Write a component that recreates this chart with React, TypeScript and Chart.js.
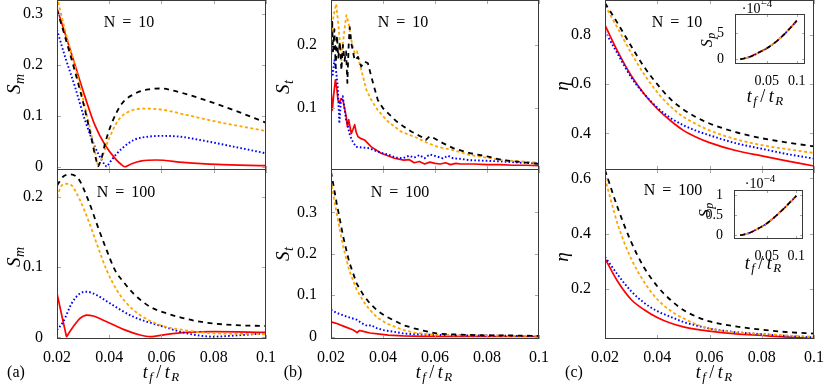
import React, { useEffect, useRef } from 'react';
import { Chart, registerables } from 'chart.js';

Chart.register(...registerables);

const PAGE_W = 830;
const PAGE_H = 391;
const SERIF = "'Liberation Serif', 'Times New Roman', serif";

// ---------------- shared x ticks ----------------
const X_TICKS = [0.02, 0.04, 0.06, 0.08, 0.1];
const X_TICK_LABELS = ['0.02', '0.04', '0.06', '0.08', '0.1'];

// ---------------- (a) S_m , N = 10 ----------------
const A10_RED_X = [0.02, 0.0231, 0.0269, 0.0307, 0.0345, 0.0384, 0.0422, 0.0448, 0.046, 0.0472, 0.0486, 0.0524, 0.058, 0.0683, 0.0811, 0.1];
const A10_RED_Y = [0.311, 0.262, 0.2, 0.138, 0.082, 0.043, 0.017, 0.004, 0.0005, 0.003, 0.0065, 0.012, 0.0137, 0.0092, 0.0052, 0.0026];
const A10_BLUE_X = [0.02, 0.0231, 0.0269, 0.0307, 0.0345, 0.0371, 0.0384, 0.039, 0.0396, 0.0409, 0.0448, 0.0499, 0.055, 0.0601, 0.0671, 0.0747, 0.0875, 0.1];
const A10_BLUE_Y = [0.269, 0.216, 0.157, 0.092, 0.04, 0.0137, 0.004, 0.0008, 0.004, 0.0137, 0.036, 0.054, 0.0595, 0.061, 0.0595, 0.053, 0.04, 0.0268];
const A10_ORANGE_X = [0.02, 0.0231, 0.0269, 0.0307, 0.0333, 0.0352, 0.0358, 0.0364, 0.0372, 0.0397, 0.0435, 0.0486, 0.0537, 0.0601, 0.0696, 0.0811, 0.1];
const A10_ORANGE_Y = [0.334, 0.268, 0.197, 0.118, 0.06, 0.014, 0.001, 0.009, 0.018, 0.053, 0.092, 0.111, 0.1144, 0.1125, 0.102, 0.0889, 0.0706];
const A10_BLACK_X = [0.02, 0.0231, 0.0269, 0.0307, 0.0333, 0.0345, 0.0352, 0.0357, 0.0362, 0.0372, 0.0384, 0.0409, 0.0448, 0.0499, 0.055, 0.0601, 0.0646, 0.0747, 0.0875, 0.1];
const A10_BLACK_Y = [0.308, 0.255, 0.187, 0.112, 0.053, 0.024, 0.01, 0.0015, 0.006, 0.02, 0.046, 0.085, 0.124, 0.144, 0.152, 0.154, 0.1497, 0.1346, 0.1118, 0.0869];

// ---------------- (a) S_m , N = 100 ----------------
const A100_RED_X = [0.02, 0.0232, 0.0237, 0.0242, 0.0262, 0.0288, 0.0314, 0.0339, 0.039, 0.0454, 0.0518, 0.0556, 0.062, 0.0696, 0.0798, 0.1];
const A100_RED_Y = [0.0624, 0.0083, 0.0009, 0.004, 0.0151, 0.027, 0.0317, 0.0303, 0.0222, 0.0113, 0.0033, 0.0009, 0.0043, 0.0071, 0.008, 0.0071];
const A100_BLUE_X = [0.02, 0.0224, 0.0256, 0.0288, 0.0314, 0.0352, 0.0403, 0.0492, 0.0599, 0.0696, 0.0747, 0.0798, 0.0875, 0.1];
const A100_BLUE_Y = [0.0104, 0.0222, 0.0482, 0.0624, 0.0648, 0.06, 0.0482, 0.0293, 0.0161, 0.0057, 0.0024, 0.0009, 0.0024, 0.0057];
const A100_ORANGE_X = [0.02, 0.0218, 0.0237, 0.0256, 0.0288, 0.032, 0.0352, 0.039, 0.0429, 0.0467, 0.0518, 0.0594, 0.0684, 0.08, 0.1];
const A100_ORANGE_Y = [0.1995, 0.216, 0.2184, 0.216, 0.195, 0.1664, 0.1333, 0.0955, 0.0671, 0.0482, 0.0317, 0.0175, 0.0104, 0.0057, 0.0047];
const A100_BLACK_X = [0.02, 0.0224, 0.025, 0.0282, 0.032, 0.0352, 0.039, 0.0422, 0.0454, 0.0492, 0.0556, 0.062, 0.0747, 0.0875, 0.1];
const A100_BLACK_Y = [0.216, 0.2288, 0.2317, 0.2255, 0.1948, 0.1617, 0.1239, 0.0955, 0.079, 0.0624, 0.0435, 0.034, 0.0222, 0.0175, 0.0161];

// ---------------- (b) S_t , N = 10 ----------------
const B10_RED_X = [0.02, 0.0205, 0.021, 0.0217, 0.0222, 0.0227, 0.0233, 0.0238, 0.0246, 0.0252, 0.0258, 0.0263, 0.0268, 0.0278, 0.0284, 0.0291, 0.0297, 0.0304, 0.0316, 0.0329, 0.0355, 0.0393, 0.0444, 0.048, 0.05, 0.052, 0.054, 0.056, 0.058, 0.06, 0.062, 0.064, 0.066, 0.068, 0.07, 0.075, 0.08, 0.085, 0.09, 0.095, 0.1];
const B10_RED_Y = [0.129, 0.097, 0.12, 0.145, 0.132, 0.113, 0.108, 0.115, 0.113, 0.1, 0.088, 0.071, 0.082, 0.06, 0.066, 0.074, 0.062, 0.055, 0.052, 0.05, 0.039, 0.029, 0.021, 0.018, 0.019, 0.014, 0.016, 0.012, 0.015, 0.013, 0.012, 0.014, 0.011, 0.013, 0.012, 0.012, 0.011, 0.011, 0.01, 0.01, 0.0095];
const B10_BLUE_X = [0.02, 0.0206, 0.0213, 0.0218, 0.0226, 0.0232, 0.0238, 0.0245, 0.025, 0.0258, 0.0264, 0.027, 0.028, 0.0296, 0.032, 0.0347, 0.037, 0.0398, 0.042, 0.045, 0.0476, 0.05, 0.052, 0.054, 0.056, 0.058, 0.0606, 0.063, 0.065, 0.067, 0.07, 0.0735, 0.08, 0.086, 0.093, 0.1];
const B10_BLUE_Y = [0.166, 0.15, 0.176, 0.165, 0.134, 0.076, 0.11, 0.119, 0.105, 0.082, 0.075, 0.061, 0.05, 0.039, 0.038, 0.037, 0.033, 0.029, 0.027, 0.022, 0.021, 0.025, 0.022, 0.026, 0.021, 0.027, 0.024, 0.021, 0.025, 0.021, 0.02, 0.018, 0.017, 0.016, 0.014, 0.013];
const B10_ORANGE_X = [0.02, 0.0206, 0.0212, 0.022, 0.0225, 0.0229, 0.0235, 0.024, 0.0245, 0.025, 0.0259, 0.0268, 0.0278, 0.0291, 0.03, 0.031, 0.0323, 0.0336, 0.0355, 0.038, 0.0419, 0.047, 0.0521, 0.0572, 0.0611, 0.067, 0.0735, 0.08, 0.086, 0.093, 0.1];
const B10_ORANGE_Y = [0.197, 0.235, 0.25, 0.265, 0.245, 0.229, 0.2, 0.176, 0.2, 0.218, 0.247, 0.234, 0.208, 0.187, 0.19, 0.171, 0.15, 0.129, 0.113, 0.097, 0.079, 0.063, 0.055, 0.045, 0.039, 0.034, 0.026, 0.022, 0.018, 0.016, 0.014];
const B10_BLACK_X = [0.02, 0.0204, 0.0208, 0.0213, 0.0218, 0.0223, 0.0228, 0.0234, 0.024, 0.0246, 0.0252, 0.0258, 0.0263, 0.0268, 0.0272, 0.0278, 0.0291, 0.0304, 0.0316, 0.0329, 0.0342, 0.0355, 0.0365, 0.038, 0.04, 0.042, 0.045, 0.048, 0.051, 0.0547, 0.0565, 0.058, 0.0595, 0.063, 0.067, 0.0735, 0.08, 0.086, 0.093, 0.1];
const B10_BLACK_Y = [0.17, 0.24, 0.19, 0.225, 0.165, 0.215, 0.18, 0.205, 0.16, 0.2, 0.175, 0.19, 0.14, 0.2, 0.228, 0.203, 0.176, 0.181, 0.166, 0.174, 0.171, 0.15, 0.135, 0.113, 0.1, 0.092, 0.08, 0.071, 0.063, 0.055, 0.05, 0.056, 0.053, 0.045, 0.037, 0.029, 0.024, 0.018, 0.015, 0.012];

// ---------------- (b) S_t , N = 100 ----------------
const B100_RED_X = [0.02, 0.021, 0.0222, 0.025, 0.0286, 0.03, 0.031, 0.0324, 0.035, 0.038, 0.042, 0.0478, 0.055, 0.07, 0.08, 0.1];
const B100_RED_Y = [0.036, 0.034, 0.032, 0.025, 0.016, 0.01, 0.015, 0.013, 0.009, 0.007, 0.004, 0.002, 0.001, 0.001, 0.0005, 0.0005];
const B100_BLUE_X = [0.02, 0.022, 0.0258, 0.0299, 0.032, 0.034, 0.0355, 0.037, 0.04, 0.044, 0.0478, 0.052, 0.0606, 0.07, 0.08, 0.09, 0.1];
const B100_BLUE_Y = [0.065, 0.058, 0.049, 0.041, 0.032, 0.026, 0.028, 0.022, 0.016, 0.012, 0.008, 0.006, 0.0043, 0.003, 0.003, 0.002, 0.002];
const B100_ORANGE_X = [0.02, 0.0211, 0.0222, 0.0235, 0.0247, 0.027, 0.0299, 0.0325, 0.035, 0.038, 0.0414, 0.045, 0.0478, 0.052, 0.056, 0.0606, 0.07, 0.08, 0.09, 0.1];
const B100_ORANGE_Y = [0.377, 0.335, 0.297, 0.255, 0.217, 0.16, 0.113, 0.085, 0.064, 0.045, 0.032, 0.023, 0.016, 0.01, 0.007, 0.0043, 0.003, 0.003, 0.002, 0.002];
const B100_BLACK_X = [0.02, 0.0211, 0.0222, 0.0235, 0.0247, 0.027, 0.0299, 0.0325, 0.035, 0.038, 0.0414, 0.045, 0.0478, 0.052, 0.056, 0.0606, 0.065, 0.07, 0.08, 0.09, 0.1];
const B100_BLACK_Y = [0.398, 0.36, 0.321, 0.28, 0.241, 0.18, 0.128, 0.1, 0.08, 0.062, 0.048, 0.037, 0.028, 0.02, 0.014, 0.008, 0.006, 0.005, 0.003, 0.003, 0.002];

// ---------------- (c) eta ----------------
const C_X = [0.02, 0.025, 0.03, 0.035, 0.04, 0.045, 0.05, 0.055, 0.06, 0.07, 0.08, 0.09, 0.1];
const C10_RED = [0.84, 0.73, 0.635, 0.56, 0.5, 0.452, 0.412, 0.384, 0.362, 0.33, 0.308, 0.287, 0.267];
const C10_BLUE = [0.815, 0.72, 0.628, 0.56, 0.505, 0.463, 0.433, 0.41, 0.392, 0.36, 0.337, 0.315, 0.297];
const C10_ORANGE = [0.92, 0.825, 0.727, 0.64, 0.567, 0.51, 0.467, 0.437, 0.412, 0.376, 0.352, 0.335, 0.32];
const C10_BLACK = [0.93, 0.845, 0.755, 0.67, 0.6, 0.54, 0.497, 0.465, 0.44, 0.405, 0.38, 0.362, 0.347];
const C100_RED = [0.31, 0.225, 0.162, 0.125, 0.097, 0.077, 0.063, 0.054, 0.048, 0.038, 0.032, 0.026, 0.021];
const C100_BLUE = [0.316, 0.25, 0.192, 0.15, 0.12, 0.1, 0.081, 0.068, 0.057, 0.044, 0.037, 0.03, 0.025];
const C100_ORANGE = [0.6, 0.43, 0.31, 0.225, 0.163, 0.122, 0.094, 0.072, 0.057, 0.043, 0.037, 0.032, 0.027];
const C100_BLACK = [0.63, 0.49, 0.37, 0.277, 0.21, 0.161, 0.124, 0.1, 0.083, 0.065, 0.053, 0.044, 0.039];

// ---------------- insets S_p (units of 1e-4) ----------------
const INSET10_X = [0.006, 0.01, 0.02, 0.03, 0.04, 0.05, 0.06, 0.07, 0.08, 0.09, 0.1];
const INSET10_Y = [0, 0.1, 0.4, 0.9, 1.5, 2.1, 2.9, 3.8, 4.9, 6.1, 7.4];
const INSET100_X = [0.005, 0.01, 0.02, 0.03, 0.04, 0.05, 0.06, 0.07, 0.08, 0.09, 0.1];
const INSET100_Y = [0, 0.01, 0.05, 0.12, 0.2, 0.29, 0.41, 0.54, 0.68, 0.83, 0.98];
const INSET_X_TICKS = [0.05, 0.1];
const INSET_X_LABELS = ['0.05', '0.1'];
const INSET10_Y_TICKS = [0, 5];
const INSET10_Y_LABELS = ['0', '5'];
const INSET100_Y_TICKS = [0, 0.5, 1];
const INSET100_Y_LABELS = ['0', '0.5', '1'];

// ---------------- y ticks of the main panels ----------------
const A10_Y_TICKS = [0, 0.1, 0.2, 0.3];
const A10_Y_LABELS = ['0', '0.1', '0.2', '0.3'];
const A100_Y_TICKS = [0, 0.1, 0.2];
const A100_Y_LABELS = ['0', '0.1', '0.2'];
const B10_Y_TICKS = [0.1, 0.2];
const B10_Y_LABELS = ['0.1', '0.2'];
const B100_Y_TICKS = [0, 0.1, 0.2, 0.3];
const B100_Y_LABELS = ['0', '0.1', '0.2', '0.3'];
const C10_Y_TICKS = [0.4, 0.6, 0.8];
const C10_Y_LABELS = ['0.4', '0.6', '0.8'];
const C100_Y_TICKS = [0.2, 0.4, 0.6];
const C100_Y_LABELS = ['0.2', '0.4', '0.6'];

// ---------------- styles ----------------
type Key = 'red' | 'blue' | 'orange' | 'black';
const STYLE: Record<Key, { color: string; width: number; dash: number[]; order: number }> = {
  red: { color: '#ff0000', width: 1.7, dash: [], order: 3 },
  blue: { color: '#0000ff', width: 1.9, dash: [1.6, 2.2], order: 2 },
  orange: { color: '#ffa500', width: 1.8, dash: [3, 2.5], order: 1 },
  black: { color: '#000000', width: 1.8, dash: [5, 4.5], order: 0 },
};

type Part = { t: string; s: number; i?: boolean; dy?: number; dx?: number };
type TextItem = { x: number; y: number; rot?: number; parts: Part[] };
type Series = { key: Key; x: number[]; y: number[] };
type Panel = {
  area: [number, number, number, number];
  xRange: [number, number];
  yRange: [number, number];
  xTicks: number[];
  xLabels: string[] | null;
  yTicks: number[];
  yLabels: string[];
  series: Series[];
  smooth: boolean;
  inset?: boolean;
  texts: TextItem[];
};

const ROT = -Math.PI / 2;
const yLabel = (x: number, y: number, main: string, sub?: string): TextItem => ({
  x, y, rot: ROT,
  parts: sub
    ? [{ t: main, s: 19, i: true }, { t: sub, s: 14, i: true, dy: 4, dx: 0.5 }]
    : [{ t: main, s: 19, i: true }],
});
const nLabel = (x: number, y: number, n: string): TextItem => ({
  x, y,
  parts: [{ t: 'N', s: 16 }, { t: '=', s: 16, dx: 7 }, { t: n, s: 16, dx: 7 }],
});
const tLabel = (x: number, y: number, s = 18): TextItem => ({
  x, y,
  parts: [
    { t: 't', s, i: true },
    { t: 'f', s: s - 5, i: true, dy: 3.5, dx: 1.5 },
    { t: '/', s, dx: 3.5 },
    { t: 't', s, i: true, dx: 3.5 },
    { t: 'R', s: s - 5, i: true, dy: 3.5, dx: 1.5 },
  ],
});
const letter = (x: number, y: number, l: string): TextItem => ({ x, y, parts: [{ t: l, s: 16 }] });
const spLabel = (x: number, y: number): TextItem => ({
  x, y, rot: ROT,
  parts: [{ t: 'S', s: 16, i: true }, { t: 'p', s: 12, i: true, dy: 3, dx: 0.5 }],
});
const expLabel = (x: number, y: number): TextItem => ({
  x, y,
  parts: [{ t: '·10', s: 14 }, { t: '−4', s: 11, dy: -6 }],
});

const four = (r: number[][], b: number[][], o: number[][], k: number[][]): Series[] => [
  { key: 'red', x: r[0], y: r[1] },
  { key: 'blue', x: b[0], y: b[1] },
  { key: 'orange', x: o[0], y: o[1] },
  { key: 'black', x: k[0], y: k[1] },
];

const PANELS: Panel[] = [
  {
    area: [57, 0, 266, 170], xRange: [0.02, 0.1], yRange: [-0.0059, 0.3275],
    xTicks: X_TICKS, xLabels: null, yTicks: A10_Y_TICKS, yLabels: A10_Y_LABELS,
    series: four([A10_RED_X, A10_RED_Y], [A10_BLUE_X, A10_BLUE_Y], [A10_ORANGE_X, A10_ORANGE_Y], [A10_BLACK_X, A10_BLACK_Y]),
    smooth: true,
    texts: [yLabel(14, 84, 'S', 'm'), nLabel(129, 22, '10')],
  },
  {
    area: [57, 169, 266, 339], xRange: [0.02, 0.1], yRange: [-0.0024, 0.2394],
    xTicks: X_TICKS, xLabels: X_TICK_LABELS, yTicks: A100_Y_TICKS, yLabels: A100_Y_LABELS,
    series: four([A100_RED_X, A100_RED_Y], [A100_BLUE_X, A100_BLUE_Y], [A100_ORANGE_X, A100_ORANGE_Y], [A100_BLACK_X, A100_BLACK_Y]),
    smooth: true,
    texts: [yLabel(14, 257, 'S', 'm'), nLabel(126, 192, '100'), tLabel(161, 372), letter(16, 372, '(a)')],
  },
  {
    area: [331, 0, 539, 170], xRange: [0.02, 0.1], yRange: [0.0025, 0.271],
    xTicks: X_TICKS, xLabels: null, yTicks: B10_Y_TICKS, yLabels: B10_Y_LABELS,
    series: four([B10_RED_X, B10_RED_Y], [B10_BLUE_X, B10_BLUE_Y], [B10_ORANGE_X, B10_ORANGE_Y], [B10_BLACK_X, B10_BLACK_Y]),
    smooth: false,
    texts: [yLabel(283, 87, 'S', 't'), nLabel(403, 22, '10')],
  },
  {
    area: [331, 169, 539, 339], xRange: [0.02, 0.1], yRange: [-0.0055, 0.4044],
    xTicks: X_TICKS, xLabels: X_TICK_LABELS, yTicks: B100_Y_TICKS, yLabels: B100_Y_LABELS,
    series: four([B100_RED_X, B100_RED_Y], [B100_BLUE_X, B100_BLUE_Y], [B100_ORANGE_X, B100_ORANGE_Y], [B100_BLACK_X, B100_BLACK_Y]),
    smooth: false,
    texts: [yLabel(283, 254, 'S', 't'), nLabel(400, 192, '100'), tLabel(434, 372), letter(293, 372, '(b)')],
  },
  {
    area: [605, 0, 814, 170], xRange: [0.02, 0.1], yRange: [0.2507, 0.9424],
    xTicks: X_TICKS, xLabels: null, yTicks: C10_Y_TICKS, yLabels: C10_Y_LABELS,
    series: four([C_X, C10_RED], [C_X, C10_BLUE], [C_X, C10_ORANGE], [C_X, C10_BLACK]),
    smooth: true,
    texts: [yLabel(562, 86, 'η'), nLabel(677, 22, '10')],
  },
  {
    area: [605, 169, 814, 339], xRange: [0.02, 0.1], yRange: [0.0193, 0.6336],
    xTicks: X_TICKS, xLabels: X_TICK_LABELS, yTicks: C100_Y_TICKS, yLabels: C100_Y_LABELS,
    series: four([C_X, C100_RED], [C_X, C100_BLUE], [C_X, C100_ORANGE], [C_X, C100_BLACK]),
    smooth: true,
    texts: [yLabel(562, 257, 'η'), nLabel(673, 190, '100'), tLabel(714, 372), letter(574, 372, '(c)')],
  },
  {
    area: [735, 14, 805, 64], xRange: [-0.0028, 0.1138], yRange: [-0.9, 8.71],
    xTicks: INSET_X_TICKS, xLabels: INSET_X_LABELS, yTicks: INSET10_Y_TICKS, yLabels: INSET10_Y_LABELS,
    series: four([INSET10_X, INSET10_Y], [INSET10_X, INSET10_Y], [INSET10_X, INSET10_Y], [INSET10_X, INSET10_Y]),
    smooth: true, inset: true,
    texts: [spLabel(707, 40), expLabel(757, 8), tLabel(765, 96)],
  },
  {
    area: [734, 190, 803, 239], xRange: [-0.0053, 0.1113], yRange: [-0.097, 1.128],
    xTicks: INSET_X_TICKS, xLabels: INSET_X_LABELS, yTicks: INSET100_Y_TICKS, yLabels: INSET100_Y_LABELS,
    series: four([INSET100_X, INSET100_Y], [INSET100_X, INSET100_Y], [INSET100_X, INSET100_Y], [INSET100_X, INSET100_Y]),
    smooth: true, inset: true,
    texts: [spLabel(705, 210), expLabel(760, 183), tLabel(763, 263)],
  },
];

function drawRich(ctx: CanvasRenderingContext2D, it: TextItem) {
  ctx.save();
  ctx.translate(it.x, it.y);
  if (it.rot) ctx.rotate(it.rot);
  const fonts = it.parts.map((p) => `${p.i ? 'italic ' : ''}${p.s}px ${SERIF}`);
  const ws: number[] = [];
  let total = 0;
  it.parts.forEach((p, k) => {
    ctx.font = fonts[k];
    const w = ctx.measureText(p.t).width;
    ws.push(w);
    total += w + (p.dx || 0);
  });
  const base = it.parts[0].s * 0.33;
  let x = -total / 2;
  ctx.fillStyle = '#000';
  ctx.textBaseline = 'alphabetic';
  ctx.textAlign = 'left';
  it.parts.forEach((p, k) => {
    x += p.dx || 0;
    ctx.font = fonts[k];
    ctx.fillText(p.t, x, base + (p.dy || 0));
    x += ws[k];
  });
  ctx.restore();
}

const decorPlugin = {
  id: 'decor',
  beforeDatasetsDraw(chart: any, _args: any, o: any) {
    if (!o.fill) return;
    const { left, top, width, height } = chart.chartArea;
    const ctx = chart.ctx;
    ctx.save();
    ctx.fillStyle = '#ffffff';
    ctx.fillRect(left, top, width, height);
    ctx.restore();
  },
  afterDraw(chart: any, _args: any, o: any) {
    const ctx: CanvasRenderingContext2D = chart.ctx;
    const { left, top, right, bottom } = chart.chartArea;
    const xs = chart.scales.x;
    const ys = chart.scales.y;
    const L = o.tickLen;
    ctx.save();
    ctx.lineWidth = 1;
    ctx.strokeStyle = o.tickColor;
    ctx.beginPath();
    for (const v of o.xTicks) {
      const px = Math.round(xs.getPixelForValue(v)) + 0.5;
      ctx.moveTo(px, bottom);
      ctx.lineTo(px, bottom - L);
      ctx.moveTo(px, top);
      ctx.lineTo(px, top + L);
    }
    for (const v of o.yTicks) {
      const py = Math.round(ys.getPixelForValue(v)) + 0.5;
      ctx.moveTo(left, py);
      ctx.lineTo(left + L, py);
      ctx.moveTo(right, py);
      ctx.lineTo(right - L, py);
    }
    ctx.stroke();
    ctx.strokeStyle = o.frameColor;
    ctx.strokeRect(left + 0.5, top + 0.5, right - left - 1, bottom - top - 1);
    ctx.restore();
    for (const t of o.texts) drawRich(ctx, t);
  },
};

function labelFor(ticks: number[], labels: string[] | null, v: number): string {
  if (!labels) return '';
  const k = ticks.findIndex((t) => Math.abs(t - v) < 1e-9);
  return k >= 0 ? labels[k] : '';
}

function buildConfig(p: Panel): any {
  const [l, t, r, b] = p.area;
  const fs = p.inset ? 14 : 16;
  // fixed sizes for the scale boxes, so the plot area lands exactly on p.area
  const YW = p.inset ? 30 : 50;
  const XH = p.inset ? 22 : 30;
  const fit = (size: number, horizontal: boolean) => (s: any) => {
    if (horizontal) s.height = size;
    else s.width = size;
    s.paddingLeft = 0;
    s.paddingRight = 0;
    s.paddingTop = 0;
    s.paddingBottom = 0;
  };
  return {
    type: 'line',
    data: {
      datasets: p.series.map((s) => ({
        data: s.x.map((x, i) => ({ x, y: s.y[i] })),
        borderColor: STYLE[s.key].color,
        borderWidth: p.inset ? STYLE[s.key].width - 0.2 : STYLE[s.key].width,
        borderDash: STYLE[s.key].dash,
        borderCapStyle: 'butt',
        borderJoinStyle: 'round',
        order: STYLE[s.key].order,
        pointRadius: 0,
        fill: false,
        tension: p.smooth ? 0.4 : 0,
        cubicInterpolationMode: p.smooth ? 'monotone' : 'default',
      })),
    },
    options: {
      responsive: false,
      maintainAspectRatio: false,
      animation: false,
      devicePixelRatio: 1,
      events: [],
      layout: { padding: { left: l - YW, top: t, right: PAGE_W - r, bottom: PAGE_H - b - XH } },
      plugins: {
        legend: { display: false },
        tooltip: { enabled: false },
        decor: {
          fill: !!p.inset,
          tickLen: p.inset ? 3 : 4,
          tickColor: '#a8a8a8',
          frameColor: '#3a3a3a',
          xTicks: p.xTicks,
          yTicks: p.yTicks,
          texts: p.texts,
        },
      },
      scales: {
        x: {
          type: 'linear',
          position: 'bottom',
          min: p.xRange[0],
          max: p.xRange[1],
          grid: { display: false },
          border: { display: false },
          ticks: {
            display: !!p.xLabels,
            autoSkip: false,
            maxRotation: 0,
            padding: 1,
            color: '#000',
            font: { family: SERIF, size: fs },
            callback: (v: number) => labelFor(p.xTicks, p.xLabels, v),
          },
          afterBuildTicks: (s: any) => {
            s.ticks = p.xTicks.map((v) => ({ value: v }));
          },
          afterFit: fit(XH, true),
        },
        y: {
          type: 'linear',
          position: 'left',
          min: p.yRange[0],
          max: p.yRange[1],
          grid: { display: false },
          border: { display: false },
          ticks: {
            display: true,
            autoSkip: false,
            padding: p.inset ? 3 : 6,
            color: '#000',
            font: { family: SERIF, size: fs },
            callback: (v: number) => labelFor(p.yTicks, p.yLabels, v),
          },
          afterBuildTicks: (s: any) => {
            s.ticks = p.yTicks.map((v) => ({ value: v }));
          },
          afterFit: fit(YW, false),
        },
      },
    },
    plugins: [decorPlugin],
  };
}

function PanelCanvas({ p }: { p: Panel }) {
  const ref = useRef<HTMLCanvasElement>(null);
  useEffect(() => {
    if (!ref.current) return;
    const chart = new Chart(ref.current, buildConfig(p));
    return () => chart.destroy();
  }, [p]);
  return (
    <canvas
      ref={ref}
      width={PAGE_W}
      height={PAGE_H}
      style={{ position: 'absolute', left: 0, top: 0, width: PAGE_W, height: PAGE_H }}
    />
  );
}

export default function App() {
  return (
    <div
      style={{
        position: 'fixed',
        left: 0,
        top: 0,
        width: PAGE_W,
        height: PAGE_H,
        background: '#ffffff',
        overflow: 'hidden',
      }}
    >
      {PANELS.map((p, i) => (
        <PanelCanvas key={i} p={p} />
      ))}
    </div>
  );
}
